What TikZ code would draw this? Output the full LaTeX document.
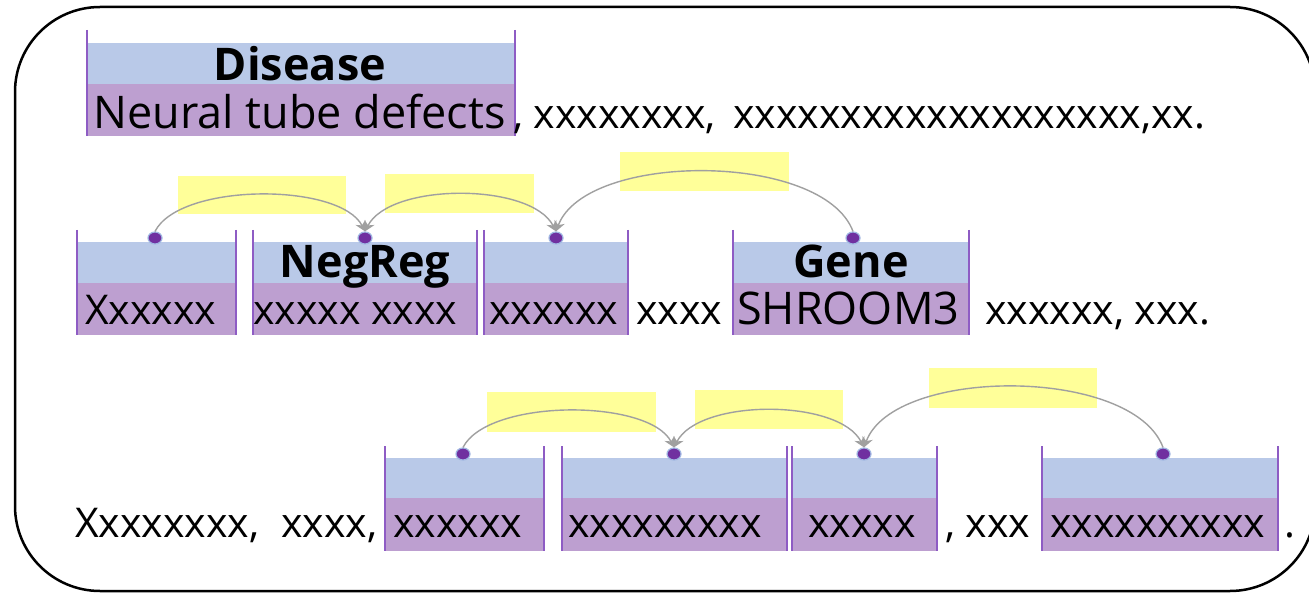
\documentclass[tikz,border=0pt]{standalone}
\usepackage{fontspec}
\setmainfont{Open Sans}
\usetikzlibrary{arrows.meta,shapes.geometric}
\definecolor{bandblue}{HTML}{B9C9E8}
\definecolor{bandpurple}{HTML}{BD9FD0}
\definecolor{edgepurple}{HTML}{8E5CC4}
\definecolor{hl}{HTML}{FFFF99}
\definecolor{dotfill}{HTML}{7030A0}
\definecolor{dotring}{HTML}{9FB6E2}
\definecolor{arcgray}{HTML}{A0A0A0}
\newcommand\tokbox[6]{%
  \fill[bandblue] (#1,#4) rectangle (#2,#5);
  \fill[bandpurple] (#1,#5) rectangle (#2,#6);
  \draw[edgepurple,line width=1.3] (#1,#3) -- (#1,#6) (#2,#3) -- (#2,#6);
}
\begin{document}
\begin{tikzpicture}[x=1pt,y=-1pt,
  word/.style={anchor=base west,inner sep=0,font=\fontsize{45}{45}\selectfont},
  xs/.style={anchor=base west,inner sep=0,font=\fontsize{41}{41}\selectfont},
  lbl/.style={anchor=base,inner sep=0,font=\fontsize{45}{45}\selectfont\bfseries},
  dot/.style={ellipse,minimum width=14,minimum height=12,inner sep=0,fill=dotfill,draw=dotring,line width=1.2},
  hlbox/.style={fill=hl},
  arc/.style={draw=arcgray,line width=1.4},
  tip/.style={-{Stealth[length=10,width=11]}},
  tips/.style={{Stealth[length=10,width=11]}-{Stealth[length=10,width=11]}}
]
\useasboundingbox (0,0) rectangle (1309,593);
\fill[white] (0,0) rectangle (1309,593);
% outer frame
\draw[line width=2.5,rounded corners=85] (15,7) rectangle (1315,591);

% ---------- row 1 ----------
\tokbox{87}{515}{30}{43}{84}{136}
\node[lbl] (dis) at (300,81) {Disease};
\node[word] (r1a) at (93,129) {Neural tube defects};
\node[xs] (r1b) at (513,129) {, xxxxxxxx,};
\node[xs] (r1c) at (733,129) {xxxxxxxxxxxxxxxxxxx,xx.};

% ---------- row 2 ----------
\fill[hlbox] (178,176) rectangle (346,214);
\fill[hlbox] (385,174) rectangle (534,213);
\fill[hlbox] (620,152) rectangle (789,191);
\tokbox{77}{236}{230}{242}{283}{335}
\tokbox{253}{477}{230}{242}{283}{335}
\tokbox{484}{628}{230}{242}{283}{335}
\tokbox{733}{969}{230}{242}{283}{335}
\node[lbl] (negreg) at (365,278) {NegReg};
\node[lbl] (gene) at (851,278) {Gene};
\node[xs] (r2a) at (85,325) {Xxxxxx};
\node[xs] (r2b) at (253,325) {xxxxx xxxx};
\node[xs] (r2c) at (489,325) {xxxxxx};
\node[xs] (r2d) at (636,325) {xxxx};
\node[word] (r2e) at (737,325) {SHROOM3};
\node[xs] (r2f) at (985,325) {xxxxxx, xxx.};
\node[dot] (r2d1) at (155,238) {};
\node[dot] (r2d2) at (365,238) {};
\node[dot] (r2d3) at (556,238) {};
\node[dot] (r2d4) at (853,238) {};
\draw[arc,tip] (r2d1.north) .. controls +(25,-49) and +(-25,-49) .. (r2d2.north);
\draw[arc,tips] (r2d2.north) .. controls +(25,-49) and +(-25,-49) .. (r2d3.north);
\draw[arc,tip] (r2d4.north) .. controls +(-30,-80) and +(30,-80) .. (r2d3.north);

% ---------- row 3 ----------
\fill[hlbox] (487,392) rectangle (656,432);
\fill[hlbox] (695,390) rectangle (843,429);
\fill[hlbox] (929,368) rectangle (1097,408);
\tokbox{385}{544}{446}{458}{498}{551}
\tokbox{562}{787}{446}{458}{498}{551}
\tokbox{792}{937}{446}{458}{498}{551}
\tokbox{1042}{1278}{446}{458}{498}{551}
\node[xs] (r3a) at (75,537) {Xxxxxxxx,};
\node[xs] (r3a2) at (281,537) {xxxx,};
\node[xs] (r3b) at (393,537) {xxxxxx};
\node[xs] (r3c) at (568,537) {xxxxxxxxx};
\node[xs] (r3d) at (808,537) {xxxxx};
\node[xs] (r3e) at (945,537) {, xxx};
\node[xs] (r3f) at (1050,537) {xxxxxxxxxx};
\node[xs] (r3g) at (1284,537) {.};
\node[dot] (r3d1) at (463,454) {};
\node[dot] (r3d2) at (674,454) {};
\node[dot] (r3d3) at (864,454) {};
\node[dot] (r3d4) at (1163,454) {};
\draw[arc,tip] (r3d1.north) .. controls +(25,-49) and +(-25,-49) .. (r3d2.north);
\draw[arc,tips] (r3d2.north) .. controls +(25,-49) and +(-25,-49) .. (r3d3.north);
\draw[arc,tip] (r3d4.north) .. controls +(-30,-81) and +(30,-81) .. (r3d3.north);
\end{tikzpicture}
\end{document}
